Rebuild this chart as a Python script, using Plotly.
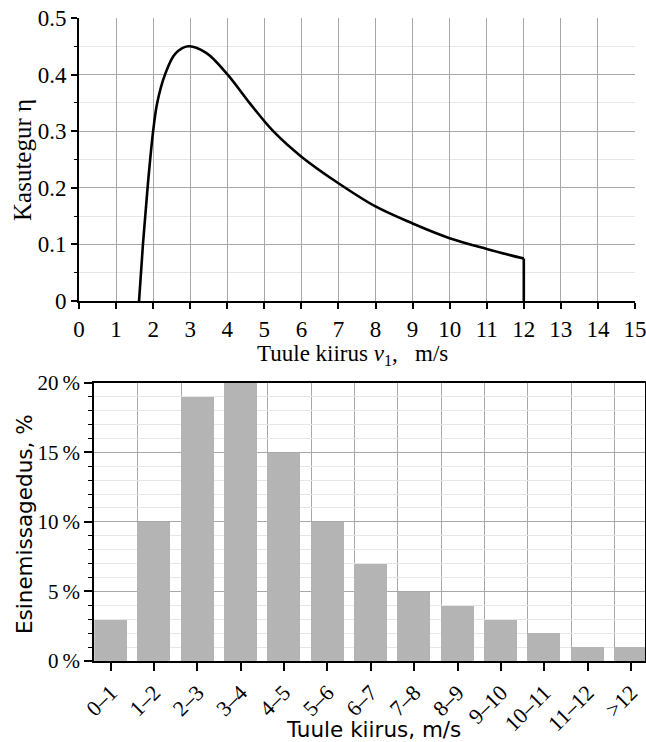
import plotly.graph_objects as go

# ---- Top chart data: efficiency curve ----
v_curve = [1.62, 1.725, 1.85, 2.0, 2.11, 2.32, 2.6, 2.95, 3.44, 4.01, 4.6, 5.24,
           6.0, 7.0, 8.0, 9.0, 10.0, 11.0, 12.0]
eta_curve = [0.0, 0.10, 0.20, 0.30, 0.35, 0.40, 0.437, 0.45, 0.438, 0.40, 0.35, 0.30,
             0.255, 0.208, 0.167, 0.137, 0.111, 0.092, 0.075]
v_cut = [12.0, 12.0]
eta_cut = [0.075, 0.0]

# ---- Bottom chart data: wind speed frequency ----
categories = ["0–1", "1–2", "2–3", "3–4", "4–5", "5–6", "6–7", "7–8", "8–9",
              "9–10", "10–11", "11–12", ">12"]
frequency = [3, 10, 19, 20, 15, 10, 7, 5, 4, 3, 2, 1, 1]
y_ticks = [0, 5, 10, 15, 20]
y_ticktext = ["0\u2009%", "5\u2009%", "10\u2009%", "15\u2009%", "20\u2009%"]

W, H = 646, 742
SERIF = "Liberation Serif"
SANS = "DejaVu Sans"
MAJ = "#a8a8a8"
MIN = "#e6e6e6"

idx = list(range(len(categories)))
bw = 0.762

fig = go.Figure()
fig.add_trace(go.Scatter(x=v_curve, y=eta_curve, mode="lines",
                         line=dict(color="black", width=2.6, shape="spline", smoothing=1.0),
                         xaxis="x", yaxis="y", showlegend=False, hoverinfo="skip"))
fig.add_trace(go.Scatter(x=v_cut, y=eta_cut, mode="lines",
                         line=dict(color="black", width=2.6),
                         xaxis="x", yaxis="y", showlegend=False, hoverinfo="skip"))
fig.add_trace(go.Bar(x=idx, y=frequency, width=bw, marker=dict(color="#b4b4b4", line=dict(width=0)),
                     xaxis="x2", yaxis="y2", showlegend=False))

fig.update_layout(
    width=W, height=H,
    margin=dict(l=0, r=0, t=0, b=0),
    paper_bgcolor="white", plot_bgcolor="white",
    xaxis=dict(domain=[79 / W, 635 / W], range=[0, 15], anchor="y",
               tickmode="linear", tick0=0, dtick=1,
               showgrid=True, gridcolor=MAJ, gridwidth=1.3, zeroline=False,
               showline=True, linecolor="black", linewidth=2,
               ticks="outside", ticklen=6, tickwidth=1.5, tickcolor="black",
               ticklabeloverflow="allow",
               tickfont=dict(family=SERIF, size=23, color="black"), automargin=False),
    yaxis=dict(domain=[1 - 301 / H, 1 - 18 / H], range=[0, 0.5], anchor="x",
               tickvals=[0, 0.1, 0.2, 0.3, 0.4, 0.5],
               ticktext=["0", "0.1", "0.2", "0.3", "0.4", "0.5"],
               showgrid=True, gridcolor=MAJ, gridwidth=1.3, zeroline=False,
               showline=True, linecolor="black", linewidth=2,
               ticks="outside", ticklen=6, tickwidth=1.5, tickcolor="black",
               ticklabeloverflow="allow",
               minor=dict(dtick=0.05, tick0=0, showgrid=True, gridcolor=MIN, gridwidth=1.3,
                          ticks="outside", ticklen=3, tickcolor="black", tickwidth=1.2),
               tickfont=dict(family=SERIF, size=23, color="black"), automargin=False),
    xaxis2=dict(domain=[94.3 / W, 645.3 / W], range=[-0.378, 12.33], anchor="y2",
                tickmode="array", tickvals=idx, ticktext=categories, tickangle=-45,
                showgrid=False, zeroline=False,
                showline=True, linecolor="black", linewidth=2, mirror=True,
                ticks="outside", ticklen=8, tickwidth=1.5, tickcolor="black",
                ticklabeloverflow="allow",
                minor=dict(tickmode="array", tickvals=[i - 0.378 for i in idx[1:]],
                           showgrid=True, gridcolor=MAJ, gridwidth=1.3, ticks=""),
                tickfont=dict(family=SERIF, size=22, color="black"), automargin=False),
    yaxis2=dict(domain=[1 - 661 / H, 1 - 382.7 / H], range=[0, 20], anchor="x2",
                tickmode="array", tickvals=y_ticks, ticktext=y_ticktext,
                showgrid=True, gridcolor=MAJ, gridwidth=1.3, zeroline=False,
                showline=True, linecolor="black", linewidth=2, mirror=True,
                ticks="outside", ticklen=8, tickwidth=1.5, tickcolor="black",
                ticklabeloverflow="allow",
                minor=dict(dtick=1, tick0=0, showgrid=True, gridcolor=MIN, gridwidth=1.3,
                           ticks="outside", ticklen=4, tickcolor="black", tickwidth=1.2),
                tickfont=dict(family=SERIF, size=21, color="black"), automargin=False),
    bargap=0,
    annotations=[
        dict(text="Kasutegur η", x=22 / W, y=1 - 160 / H, xref="paper", yref="paper",
             textangle=-90, showarrow=False, xanchor="center", yanchor="middle",
             font=dict(family=SERIF, size=25, color="black")),
        dict(text="Tuule kiirus <i>v</i><sub>1</sub>,\u00a0\u00a0\u00a0m/s", x=352 / W, y=1 - 355 / H,
             xref="paper", yref="paper", showarrow=False, xanchor="center", yanchor="middle",
             font=dict(family=SERIF, size=23, color="black")),
        dict(text="Esinemissagedus, %", x=24 / W, y=1 - 524 / H, xref="paper", yref="paper",
             textangle=-90, showarrow=False, xanchor="center", yanchor="middle",
             font=dict(family=SANS, size=21.5, color="black")),
        dict(text="Tuule kiirus, m/s", x=373 / W, y=1 - 729 / H, xref="paper", yref="paper",
             showarrow=False, xanchor="center", yanchor="middle",
             font=dict(family=SANS, size=21.5, color="black")),
    ],
)

fig.write_html("out.html", config={"displayModeBar": False},
               post_script="document.body.style.margin='0';document.body.style.overflow='hidden';")
